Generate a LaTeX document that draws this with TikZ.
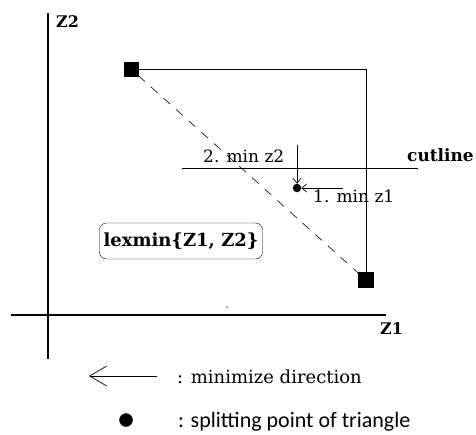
\documentclass[tikz,border=0pt]{standalone}
\usepackage{fontspec}
\setmainfont{DejaVu Serif}
\newfontfamily\legsans{Carlito}
\usetikzlibrary{positioning, arrows.meta, calc}
\tikzset{
  axis/.style  = {line width=2.6pt},
  sq/.style    = {draw, fill=black, rectangle, minimum size=14pt, inner sep=0pt},
  pt/.style    = {draw, fill=black, circle, minimum size=8pt, inner sep=0pt},
  dashln/.style= {dash pattern=on 9pt off 8pt, line width=0.6pt},
  ar/.style    = {-{Straight Barb[length=5pt, width=8pt]}, line width=0.7pt},
  bigar/.style = {-{Straight Barb[length=17pt, width=20pt]}, line width=0.7pt},
  lbl/.style   = {font=\fontsize{17}{19}\selectfont, inner sep=1pt},
  blbl/.style  = {font=\fontsize{16}{18}\selectfont\bfseries, inner sep=1pt},
}
\begin{document}
\begin{tikzpicture}[x=1pt, y=-1pt]
  \useasboundingbox (0,0) rectangle (476,434);
  % axes
  \coordinate (ytop) at (48,13);
  \coordinate (ybot) at (48,359);
  \coordinate (xl) at (11,315);
  \coordinate (xr) at (386,315);
  \draw[axis] (ybot) -- (ytop);
  \draw[axis] (xl) -- (xr);
  \node[blbl, anchor=base west] (z2) at (55,27) {Z2};
  \node[blbl, anchor=base west] (z1) at (379,334) {Z1};

  % extreme points and box
  \node[sq] (p1) at (131,69) {};
  \node[sq, minimum size=15pt] (p2) at (366,280) {};
  \coordinate (corner) at (366,69);
  \draw[line width=0.8pt] (p1) -- (corner) -- (p2);
  \draw[dashln] (p1) -- (p2);

  % cutline and splitting point
  \coordinate (cl) at (182,168);
  \coordinate (cr) at (418,168);
  \draw[line width=0.8pt] (cl) -- (cr);
  \node[blbl, font=\fontsize{17}{19}\selectfont\bfseries, anchor=base east] (cut) at (475,161) {cutline};
  \node[pt] (s) at (297,188) {};
  \coordinate (vtop) at (297,145);
  \coordinate (hend) at (343,188);
  \draw[ar] (vtop) -- (s);
  \draw[ar] (hend) -- (s);
  \node[lbl, anchor=base west] (m2) at (202,162) {2. min z2};
  \node[lbl, anchor=base west] (m1) at (312,202) {1. min z1};

  % objective
  \node[draw, rounded corners=7pt, font=\fontsize{18}{20}\selectfont\bfseries,
        minimum width=163pt, minimum height=36pt] (lex) at (181,241)
        {lexmin\{Z1, Z2\}};
  \node[fill=black, circle, inner sep=0pt, minimum size=1.5pt] (spk) at (227,307) {};

  % legend
  \coordinate (la) at (157,376);
  \coordinate (lb) at (89,376);
  \draw[bigar] (la) -- (lb);
  \node[lbl, font=\fontsize{18}{20}\selectfont, anchor=base west] (leg1) at (176,383) {: minimize direction};
  \node[pt, minimum size=13pt] (ldot) at (126,420) {};
  \node[lbl, font=\fontsize{22}{24}\legsans, anchor=base west] (leg2) at (177,427) {: splitting point of triangle};
\end{tikzpicture}
\end{document}
